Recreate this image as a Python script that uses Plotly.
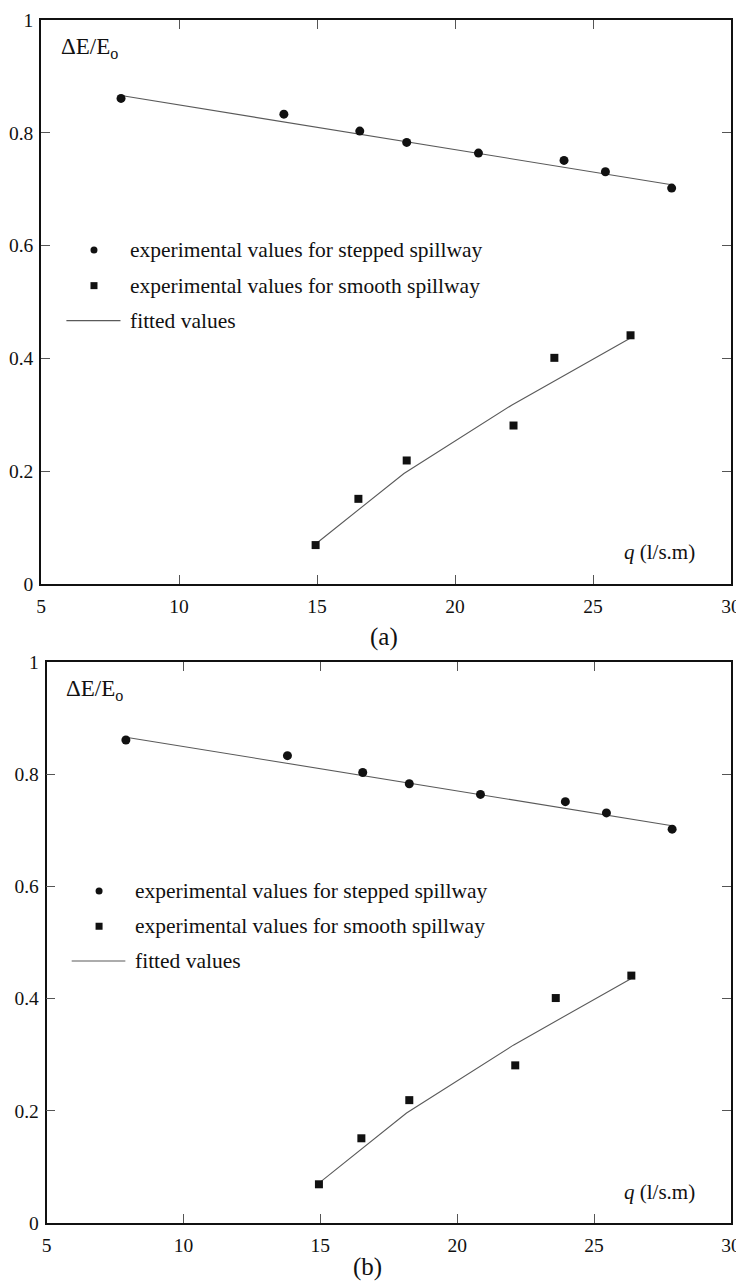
import plotly.graph_objects as go

# ---- data ----
q_stepped = [7.9, 13.8, 16.55, 18.25, 20.85, 23.95, 25.45, 27.85]
e_stepped = [0.861, 0.833, 0.803, 0.783, 0.764, 0.751, 0.731, 0.702]
q_stepped_fit = [7.9, 27.85]
e_stepped_fit = [0.866, 0.708]

q_smooth = [14.95, 16.5, 18.25, 22.12, 23.6, 26.36]
e_smooth = [0.069, 0.151, 0.219, 0.281, 0.401, 0.441]
q_smooth_fit = [14.95, 18.15, 22.05, 26.36]
e_smooth_fit = [0.071, 0.196, 0.317, 0.436]

x_ticks = [5, 10, 15, 20, 25, 30]
y_ticks = [0, 0.2, 0.4, 0.6, 0.8, 1]
y_tick_text = ["0", "0.2", "0.4", "0.6", "0.8", "1"]

legend_labels = ["experimental values for stepped spillway",
                 "experimental values for smooth spillway",
                 "fitted values"]
panel_labels = ["(a)", "(b)"]

FONT = "Liberation Serif"
# the page body has an 8px default margin, so the figure is drawn 8px in
OFF = 8
W, H = 744 - OFF, 1284 - OFF

fig = go.Figure()

panels = [
    # (xaxis id, yaxis id, x domain px, y domain px (top,bottom), label x px, label y px)
    ("x", "y", (41, 731), (20, 584), 384, 637),
    ("x2", "y2", (46.5, 731), (662, 1223), 367, 1267),
]

for i, (xa, ya, (xl, xr), (yt, yb), lx, ly) in enumerate(panels):
    fig.add_trace(go.Scatter(x=q_stepped_fit, y=e_stepped_fit, mode="lines",
                             line=dict(color="#5a5a5a", width=1.1),
                             xaxis=xa, yaxis=ya, showlegend=False, hoverinfo="skip"))
    fig.add_trace(go.Scatter(x=q_smooth_fit, y=e_smooth_fit, mode="lines",
                             line=dict(color="#5a5a5a", width=1.1),
                             xaxis=xa, yaxis=ya, showlegend=False, hoverinfo="skip"))
    fig.add_trace(go.Scatter(x=q_stepped, y=e_stepped, mode="markers",
                             marker=dict(symbol="circle", size=9, color="#111"),
                             xaxis=xa, yaxis=ya, showlegend=False))
    fig.add_trace(go.Scatter(x=q_smooth, y=e_smooth, mode="markers",
                             marker=dict(symbol="square", size=8, color="#111"),
                             xaxis=xa, yaxis=ya, showlegend=False))

    # hand-drawn legend inside the plot (data coordinates)
    fig.add_trace(go.Scatter(x=[6.92], y=[0.592], mode="markers",
                             marker=dict(symbol="circle", size=7, color="#111"),
                             xaxis=xa, yaxis=ya, showlegend=False, hoverinfo="skip"))
    fig.add_trace(go.Scatter(x=[6.92], y=[0.529], mode="markers",
                             marker=dict(symbol="square", size=7, color="#111"),
                             xaxis=xa, yaxis=ya, showlegend=False, hoverinfo="skip"))
    fig.add_trace(go.Scatter(x=[5.92, 7.88], y=[0.467, 0.467], mode="lines",
                             line=dict(color="#5a5a5a", width=1.1),
                             xaxis=xa, yaxis=ya, showlegend=False, hoverinfo="skip"))
    for txt, yv in zip(legend_labels, [0.592, 0.529, 0.467]):
        fig.add_annotation(x=8.15, y=yv, xref=xa, yref=ya, text=txt,
                           showarrow=False, xanchor="left", yanchor="middle",
                           font=dict(family=FONT, size=21.5, color="#111"))
    fig.add_annotation(x=5.65, y=0.95, xref=xa, yref=ya,
                       text="ΔE/E<sub>o</sub>", showarrow=False,
                       xanchor="left", yanchor="middle",
                       font=dict(family=FONT, size=23, color="#111"))
    fig.add_annotation(x=28.77, y=0.056, xref=xa, yref=ya,
                       text="<i>q</i> (l/s.m)", showarrow=False,
                       xanchor="right", yanchor="middle",
                       font=dict(family=FONT, size=21, color="#111"))
    fig.add_annotation(x=(lx - OFF) / W, y=1 - (ly - OFF) / H, xref="paper", yref="paper",
                       text=panel_labels[i], showarrow=False,
                       xanchor="center", yanchor="middle",
                       font=dict(family=FONT, size=25, color="#111"))

axis_common = dict(showgrid=False, zeroline=False, showline=True,
                   linecolor="#111", linewidth=1.6, mirror="ticks",
                   ticks="inside", ticklen=9, tickwidth=1.2, tickcolor="#555",
                   tickfont=dict(family=FONT, size=19.5, color="#111"),
                   automargin=False)

layout_axes = {}
for (xa, ya, (xl, xr), (yt, yb), lx, ly) in panels:
    xname = "xaxis" + xa[1:]
    yname = "yaxis" + ya[1:]
    layout_axes[xname] = dict(axis_common, range=[5, 30], tickvals=x_ticks,
                              domain=[(xl - OFF) / W, (xr - OFF) / W], anchor=ya,
                              ticklabelstandoff=4)
    layout_axes[yname] = dict(axis_common, range=[0, 1], tickvals=y_ticks,
                              ticktext=y_tick_text,
                              domain=[1 - (yb - OFF) / H, 1 - (yt - OFF) / H], anchor=xa,
                              ticklabelstandoff=2)

fig.update_layout(width=W, height=H, margin=dict(l=0, r=0, t=0, b=0),
                  paper_bgcolor="white", plot_bgcolor="white",
                  font=dict(family=FONT, color="#111"),
                  showlegend=False, **layout_axes)

fig.write_html("out.html")
